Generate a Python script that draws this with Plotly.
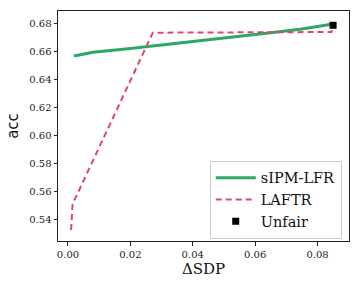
import plotly.graph_objects as go

sipm_x = [0.0019, 0.008, 0.02, 0.035, 0.05, 0.065, 0.075, 0.0845]
sipm_y = [0.6566, 0.6594, 0.6620, 0.6655, 0.6695, 0.6732, 0.6760, 0.6793]

laftr_x = [0.0010, 0.0015, 0.0022, 0.0272, 0.0500, 0.0845, 0.0848]
laftr_y = [0.5324, 0.5520, 0.5543, 0.6733, 0.6735, 0.6738, 0.6783]

unfair_x = [0.0850]
unfair_y = [0.6786]

xticks = [0.00, 0.02, 0.04, 0.06, 0.08]
yticks = [0.54, 0.56, 0.58, 0.60, 0.62, 0.64, 0.66, 0.68]

serif = "DejaVu Serif"

fig = go.Figure()
fig.add_trace(go.Scatter(x=sipm_x, y=sipm_y, mode="lines", name="sIPM-LFR",
                         line=dict(color="#2aa866", width=3)))
fig.add_trace(go.Scatter(x=laftr_x, y=laftr_y, mode="lines", name="LAFTR",
                         line=dict(color="#e0456a", width=2, dash="6px,4px")))
fig.add_trace(go.Scatter(x=unfair_x, y=unfair_y, mode="markers", name="Unfair",
                         marker=dict(color="black", symbol="square", size=7)))

axis_common = dict(showgrid=False, zeroline=False, showline=True, linecolor="#222",
                   linewidth=1, mirror=True, ticks="outside", ticklen=3.5,
                   tickcolor="#222", automargin=False,
                   tickfont=dict(family=serif, size=10, color="#222"))

fig.update_xaxes(range=[-0.0032, 0.0901], tickvals=xticks,
                 ticktext=[f"{v:.2f}" for v in xticks],
                 title=dict(text="ΔSDP", font=dict(family=serif, size=15, color="#111"), standoff=4),
                 **axis_common)
fig.update_yaxes(range=[0.5245, 0.6888], tickvals=yticks,
                 ticktext=[f"{v:.2f}" for v in yticks],
                 title=dict(text="acc", font=dict(family="DejaVu Sans", size=15, color="#111"), standoff=6),
                 **axis_common)

fig.update_layout(
    width=360, height=288,
    margin=dict(l=58, r=11, t=11, b=47),
    plot_bgcolor="white", paper_bgcolor="white",
    legend=dict(x=0.975, y=0.01, xanchor="right", yanchor="bottom",
                bgcolor="rgba(255,255,255,0.8)", bordercolor="#ccc", borderwidth=1,
                font=dict(family=serif, size=14.5, color="#111"),
                itemwidth=40, tracegroupgap=0),
    showlegend=True,
)

fig.write_html("out.html", config={"displayModeBar": False},
               post_script="document.body.style.margin='0';")
